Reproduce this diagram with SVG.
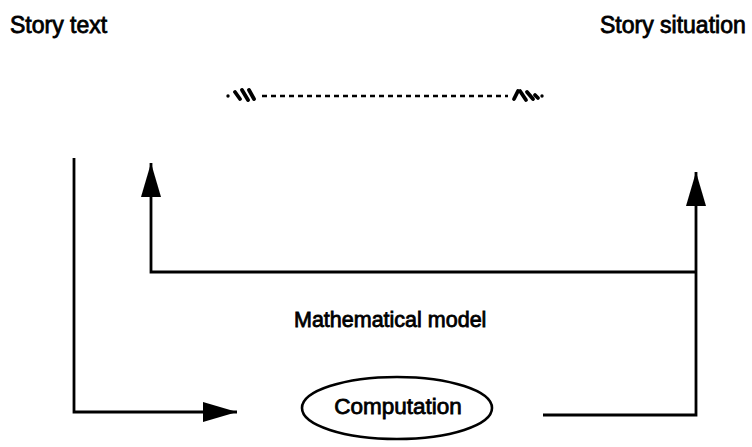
<svg xmlns="http://www.w3.org/2000/svg" width="752" height="447" viewBox="0 0 752 447">
<style>
.lbl{font-family:"Liberation Sans",Arial,sans-serif;fill:#000;stroke:#000;stroke-width:0.8}
.ln{fill:none;stroke:#000;stroke-width:2.8}
.dash{fill:none;stroke:#000;stroke-width:2.6;stroke-dasharray:5 4}
.sq{fill:none;stroke:#000;stroke-width:3.8;stroke-linecap:round}
</style>
<defs>
<marker id="ah" markerUnits="userSpaceOnUse" markerWidth="34" markerHeight="20" refX="34" refY="10" orient="auto">
<path d="M0,0 L34,10 L0,20 z" fill="#000"/>
</marker>
</defs>
<rect width="752" height="447" fill="#fff"/>
<g id="story-text"><text class="lbl" x="10" y="33" font-size="23">Story text</text></g>
<g id="story-situation"><text class="lbl" x="600" y="33" font-size="23">Story situation</text></g>
<g id="math-model"><text class="lbl" x="294" y="327" font-size="21.5">Mathematical model</text></g>
<g id="computation">
<ellipse cx="397" cy="408" rx="95" ry="31" fill="none" stroke="#000" stroke-width="2.6"/>
<text class="lbl" x="398" y="414" font-size="22.5" text-anchor="middle">Computation</text>
</g>
<g id="connectors">
<polyline class="ln" points="74,158 74,412 237,412" marker-end="url(#ah)"/>
<polyline class="ln" points="696,272 151,272 151,163" marker-end="url(#ah)"/>
<polyline class="ln" points="543,415 696,415 696,172" marker-end="url(#ah)"/>
<line class="dash" x1="262" y1="96" x2="508" y2="96"/>
<circle cx="228" cy="96" r="1.7" fill="#000"/>
<path class="sq" d="M235,92 L240,99 M242,90 L248,100 M249,90 L254,99"/>
<circle cx="542" cy="96" r="1.7" fill="#000"/>
<path class="sq" d="M514,99 L518,91 M520,91 L526,100 M527,92 L533,99 M535,95 L538,98"/>
</g>
</svg>
